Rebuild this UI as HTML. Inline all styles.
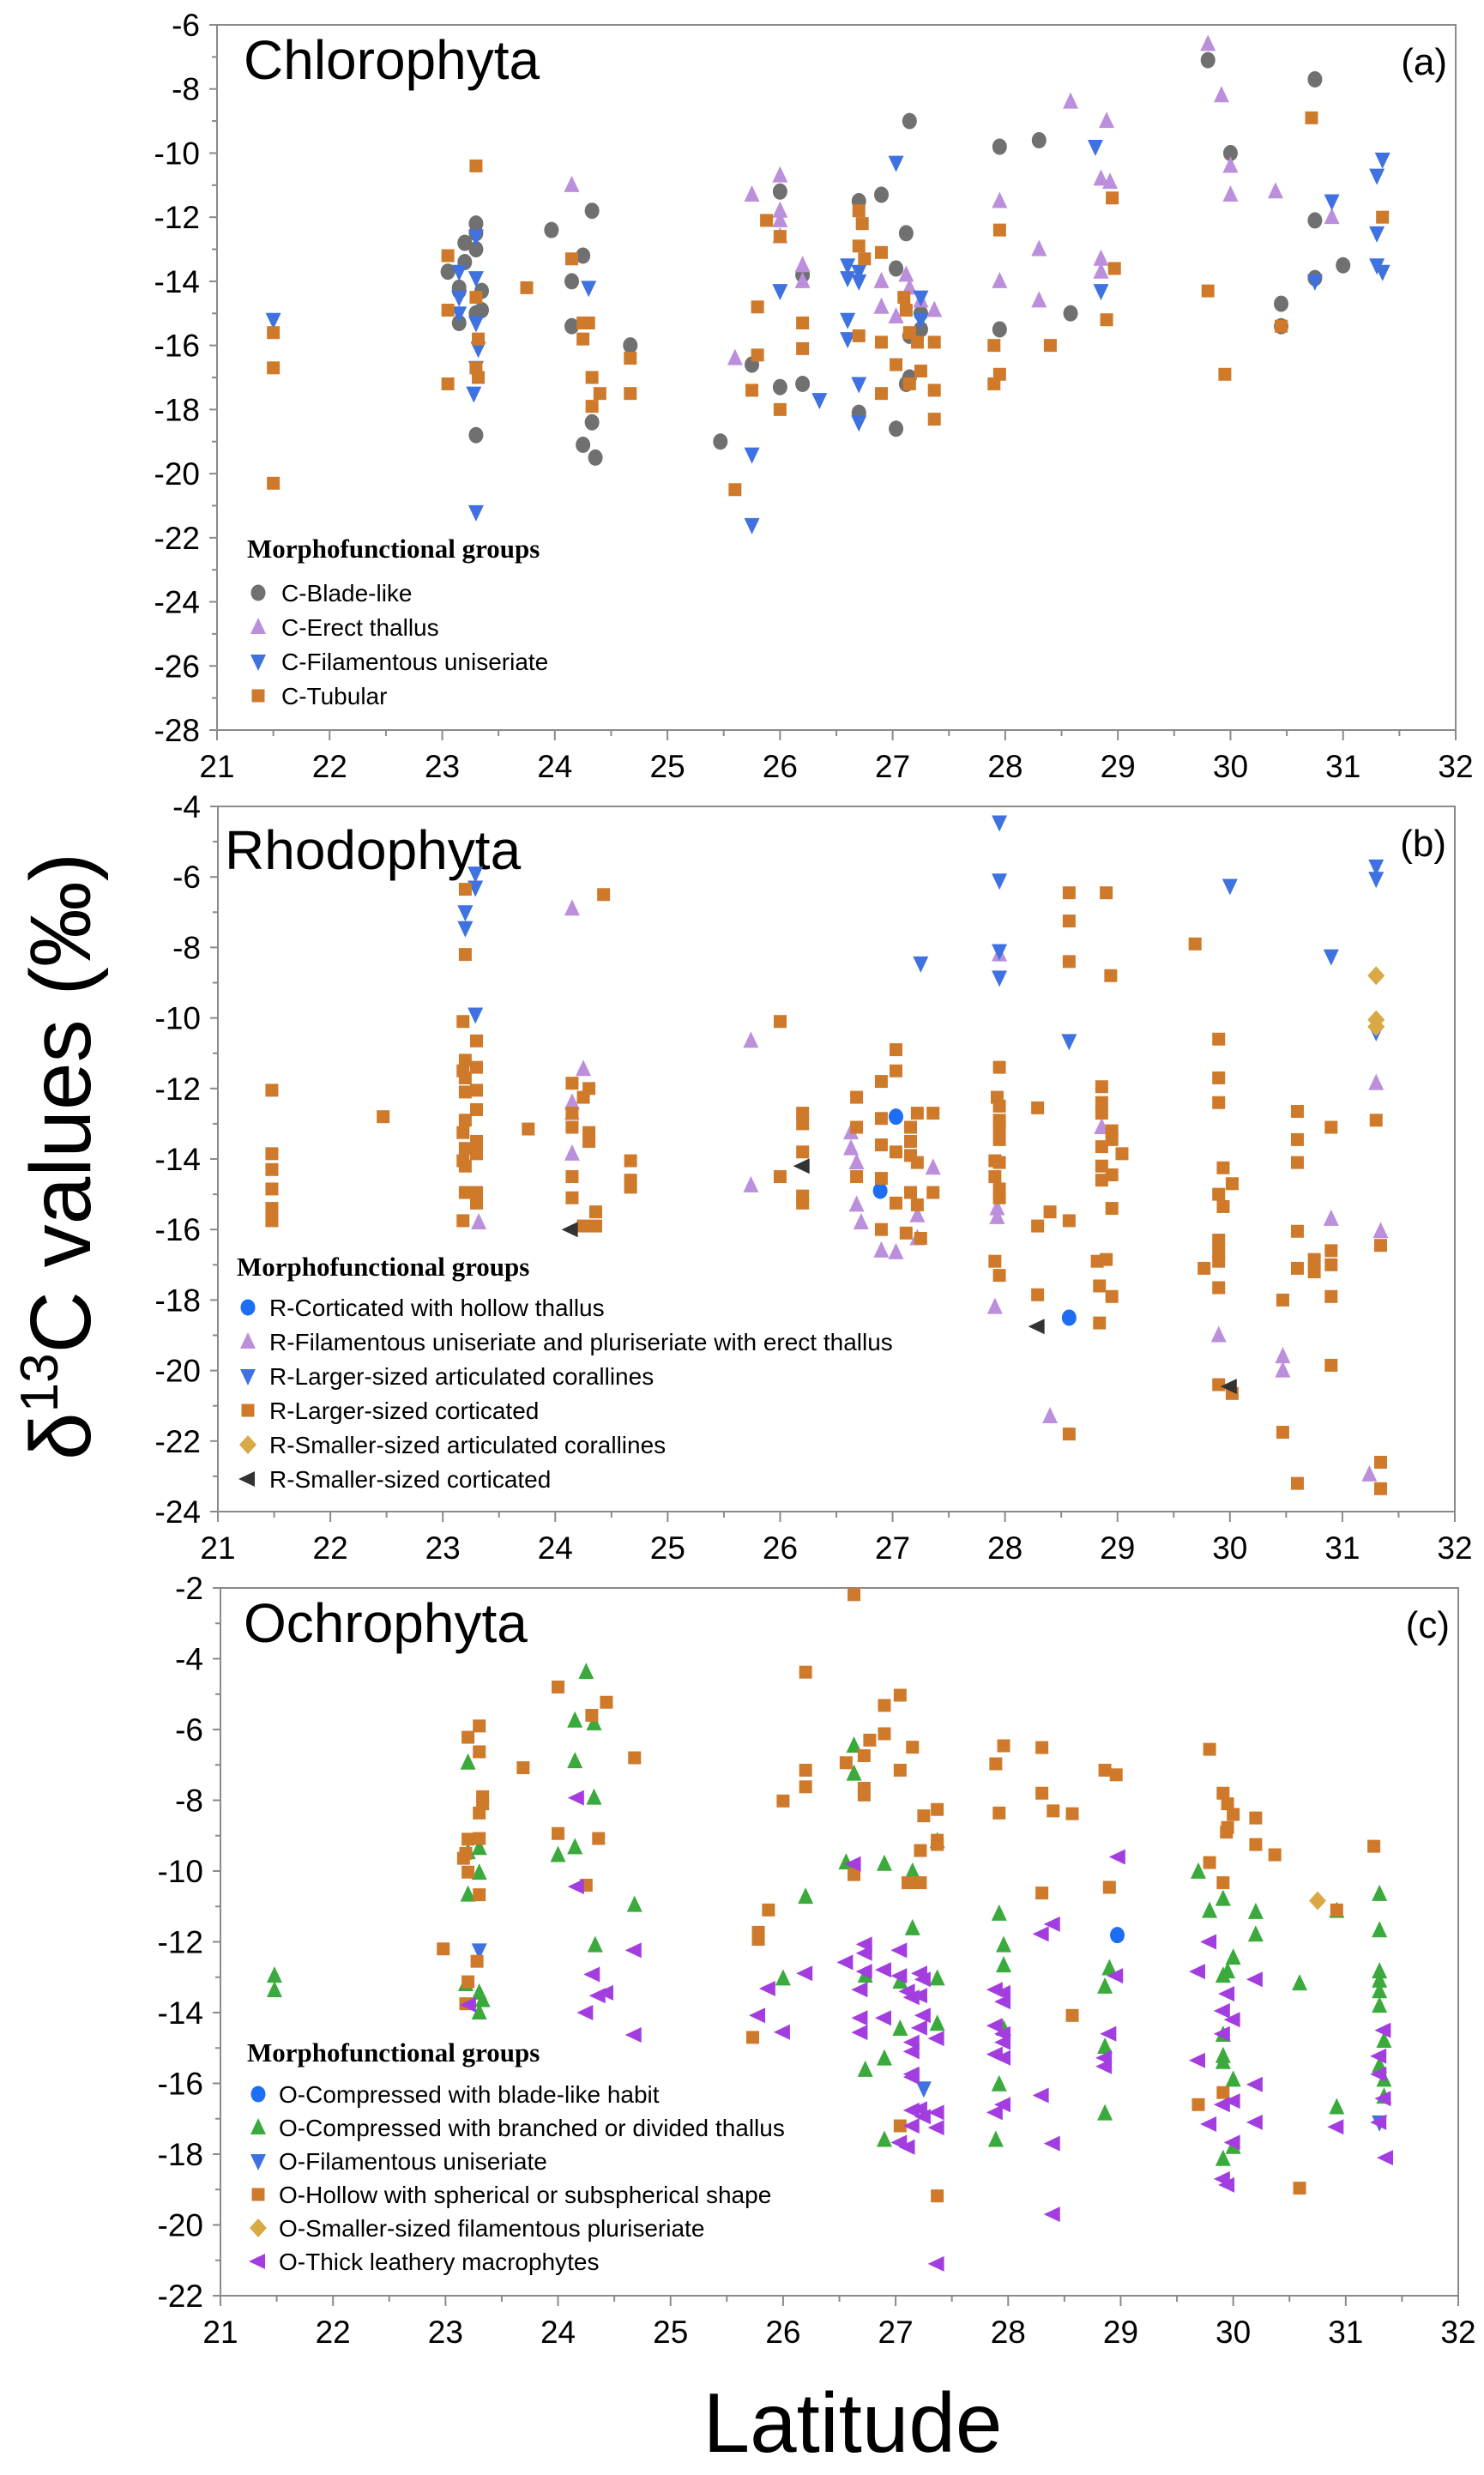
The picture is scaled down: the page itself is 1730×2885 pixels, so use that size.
<!DOCTYPE html>
<html><head><meta charset="utf-8"><style>
html,body{margin:0;padding:0;background:#fff}
svg{display:block}
text{font-family:"Liberation Sans",sans-serif}
text.serif{font-family:"Liberation Serif",serif}
</style></head><body>
<svg id="chart" width="1730" height="2885" viewBox="0 0 1730 2885" xmlns="http://www.w3.org/2000/svg"></svg>
<script>
// ---- data: [latitude, delta13C] ----
const xTicks = [21,22,23,24,25,26,27,28,29,30,31,32];
const yTicksA = [-6,-8,-10,-12,-14,-16,-18,-20,-22,-24,-26,-28];
const yTicksB = [-4,-6,-8,-10,-12,-14,-16,-18,-20,-22,-24];
const yTicksC = [-2,-4,-6,-8,-10,-12,-14,-16,-18,-20,-22];

const cBlade = [[23.05,-13.7],[23.2,-12.8],[23.2,-13.4],[23.15,-14.2],[23.15,-14.3],[23.15,-15.3],[23.3,-12.2],[23.3,-12.5],[23.3,-13.0],[23.35,-14.3],[23.3,-15.0],[23.35,-14.9],[23.3,-18.8],[23.97,-12.4],[24.15,-14.0],[24.25,-13.2],[24.33,-11.8],[24.15,-15.4],[24.25,-19.1],[24.33,-18.4],[24.36,-19.5],[24.67,-16.0],[25.47,-19.0],[25.75,-16.6],[26.0,-11.2],[26.0,-17.3],[26.2,-13.8],[26.2,-17.2],[26.7,-11.5],[26.7,-18.1],[26.9,-11.3],[27.03,-13.6],[27.03,-18.6],[27.12,-12.5],[27.15,-9.0],[27.15,-15.7],[27.12,-17.2],[27.15,-17.0],[27.25,-15.0],[27.25,-15.5],[27.95,-9.8],[27.95,-15.5],[28.3,-9.6],[28.58,-15.0],[29.8,-7.1],[30.0,-10.0],[30.45,-14.7],[30.45,-15.4],[30.75,-7.7],[30.75,-12.1],[30.75,-13.9],[31.0,-13.5]];
const cErect = [[24.15,-11.0],[25.6,-16.4],[25.75,-11.3],[26.0,-10.7],[26.0,-11.8],[26.0,-12.1],[26.0,-12.6],[26.2,-13.5],[26.2,-14.0],[26.9,-14.0],[26.9,-14.8],[27.03,-15.1],[27.12,-13.8],[27.15,-14.2],[27.25,-14.6],[27.37,-14.9],[27.95,-11.5],[27.95,-14.0],[28.3,-13.0],[28.3,-14.6],[28.58,-8.4],[28.85,-10.8],[28.85,-13.3],[28.85,-13.7],[28.9,-9.0],[28.93,-10.9],[29.8,-6.6],[29.92,-8.2],[30.0,-10.4],[30.0,-11.3],[30.4,-11.2],[30.9,-12.0]];
const cFil = [[21.5,-15.2],[23.15,-13.7],[23.15,-14.5],[23.15,-15.0],[23.3,-12.6],[23.3,-13.9],[23.3,-15.3],[23.32,-16.1],[23.3,-16.7],[23.28,-17.5],[23.3,-21.2],[24.3,-14.2],[25.75,-19.4],[25.75,-21.6],[26.0,-14.3],[26.35,-17.7],[26.6,-13.5],[26.6,-13.9],[26.6,-15.2],[26.6,-15.8],[26.7,-13.7],[26.7,-14.0],[26.7,-17.2],[26.7,-18.4],[27.03,-10.3],[27.25,-14.5],[27.25,-15.2],[28.8,-9.8],[28.85,-14.3],[30.75,-14.0],[30.9,-11.5],[31.3,-10.7],[31.3,-12.5],[31.3,-13.5],[31.35,-10.2],[31.35,-13.7]];
const cTub = [[21.5,-15.6],[21.5,-16.7],[21.5,-20.3],[23.05,-13.2],[23.05,-14.9],[23.05,-17.2],[23.3,-10.4],[23.3,-14.5],[23.32,-15.8],[23.3,-16.7],[23.32,-17.0],[23.75,-14.2],[24.15,-13.3],[24.25,-15.3],[24.3,-15.3],[24.25,-15.8],[24.33,-17.0],[24.33,-17.9],[24.4,-17.5],[24.67,-16.4],[24.67,-17.5],[25.6,-20.5],[25.75,-17.4],[25.8,-14.8],[25.8,-16.3],[25.88,-12.1],[26.0,-12.6],[26.0,-18.0],[26.2,-15.3],[26.2,-16.1],[26.7,-11.8],[26.7,-12.9],[26.73,-12.2],[26.7,-15.7],[26.75,-13.3],[26.9,-13.1],[26.9,-15.9],[26.9,-17.5],[27.03,-16.6],[27.1,-14.5],[27.12,-14.9],[27.15,-15.6],[27.15,-17.2],[27.22,-15.9],[27.25,-16.8],[27.37,-15.9],[27.37,-17.4],[27.37,-18.3],[27.9,-16.0],[27.9,-17.2],[27.95,-12.4],[27.95,-16.9],[28.4,-16.0],[28.9,-15.2],[28.95,-11.4],[28.97,-13.6],[29.8,-14.3],[29.95,-16.9],[30.45,-15.4],[30.72,-8.9],[31.35,-12.0]];

const rHollow = [[27.03,-12.8],[26.89,-14.9],[28.57,-18.5]];
const rFilErect = [[24.15,-6.9],[24.25,-11.45],[24.15,-12.4],[24.15,-12.7],[24.15,-13.85],[23.32,-15.8],[25.74,-10.65],[25.74,-14.75],[26.63,-13.25],[26.63,-13.7],[26.68,-14.1],[26.68,-15.3],[26.72,-15.8],[26.9,-16.6],[27.03,-16.65],[27.22,-15.6],[27.22,-16.25],[27.36,-14.25],[27.95,-8.2],[27.93,-15.4],[27.93,-15.65],[27.91,-18.2],[28.4,-21.3],[28.86,-13.1],[29.9,-19.0],[30.47,-19.6],[30.47,-20.0],[30.9,-15.7],[31.3,-11.85],[31.34,-16.05],[31.24,-22.95]];
const rLargeArt = [[23.29,-5.9],[23.29,-6.3],[23.2,-7.0],[23.2,-7.45],[23.29,-9.9],[27.95,-4.45],[27.95,-6.1],[27.95,-8.1],[27.95,-8.85],[27.25,-8.45],[28.57,-10.65],[30.0,-6.25],[30.9,-8.25],[31.3,-5.7],[31.3,-6.05],[31.3,-10.4]];
const rLargeCort = [[21.48,-12.05],[21.48,-13.85],[21.48,-14.3],[21.48,-14.85],[21.48,-15.4],[21.48,-15.75],[22.47,-12.8],[23.2,-6.35],[23.2,-8.2],[23.18,-10.1],[23.3,-10.65],[23.2,-11.2],[23.3,-11.4],[23.18,-11.5],[23.2,-11.7],[23.3,-12.05],[23.2,-12.1],[23.3,-12.6],[23.2,-12.9],[23.18,-13.25],[23.3,-13.5],[23.2,-13.7],[23.3,-13.85],[23.18,-14.05],[23.2,-14.2],[23.2,-14.95],[23.3,-14.95],[23.3,-15.25],[23.18,-15.75],[23.76,-13.15],[24.15,-11.85],[24.3,-12.0],[24.25,-12.25],[24.15,-12.7],[24.15,-13.1],[24.3,-13.25],[24.3,-13.5],[24.15,-14.5],[24.15,-15.1],[24.36,-15.5],[24.25,-15.9],[24.36,-15.9],[24.43,-6.5],[24.67,-14.05],[24.67,-14.6],[24.67,-14.8],[26.0,-10.1],[26.0,-14.5],[26.2,-12.7],[26.2,-13.0],[26.2,-13.8],[26.2,-15.05],[26.2,-15.25],[26.68,-12.25],[26.68,-13.1],[26.68,-14.5],[27.03,-10.9],[27.03,-11.5],[26.9,-11.8],[26.9,-12.85],[26.9,-13.6],[27.03,-13.8],[26.9,-14.55],[27.03,-15.25],[26.9,-16.0],[27.36,-12.7],[27.22,-12.7],[27.16,-13.1],[27.16,-13.5],[27.16,-13.9],[27.22,-14.1],[27.36,-14.95],[27.16,-14.95],[27.22,-15.3],[27.12,-16.1],[27.25,-16.25],[27.95,-11.4],[27.93,-12.25],[27.95,-12.5],[27.95,-12.9],[27.95,-13.1],[27.95,-13.45],[27.91,-14.05],[27.95,-14.1],[27.91,-14.5],[27.95,-14.85],[27.95,-15.1],[27.91,-16.9],[27.95,-17.3],[28.29,-12.55],[28.29,-15.9],[28.29,-17.85],[28.4,-15.5],[28.57,-6.45],[28.57,-7.25],[28.57,-8.4],[28.57,-15.75],[28.57,-21.8],[28.9,-6.45],[28.94,-8.8],[28.86,-11.95],[28.86,-12.4],[28.86,-12.7],[28.95,-13.2],[28.95,-13.45],[28.86,-13.65],[29.04,-13.85],[28.86,-14.2],[28.95,-14.45],[28.86,-14.6],[28.95,-15.4],[28.9,-16.85],[28.82,-16.9],[28.84,-17.6],[28.95,-17.9],[28.84,-18.65],[29.69,-7.9],[29.9,-10.6],[29.9,-11.7],[29.9,-12.4],[29.94,-14.25],[30.02,-14.7],[29.9,-15.0],[29.94,-15.35],[29.9,-16.3],[29.9,-16.65],[29.9,-16.9],[29.77,-17.1],[29.9,-17.65],[29.9,-20.4],[30.02,-20.65],[30.6,-12.65],[30.6,-13.45],[30.6,-14.1],[30.6,-16.05],[30.75,-16.85],[30.6,-17.1],[30.75,-17.2],[30.47,-18.0],[30.47,-21.75],[30.6,-23.2],[30.9,-13.1],[30.9,-16.6],[30.9,-17.0],[30.9,-17.9],[30.9,-19.85],[31.3,-12.9],[31.34,-16.45],[31.34,-22.6],[31.34,-23.35]];
const rSmallArt = [[31.3,-8.8],[31.3,-10.05],[31.3,-10.25]];
const rSmallCort = [[26.2,-14.2],[24.14,-16.0],[28.29,-18.75],[30.0,-20.45]];

const oBlade = [[28.97,-11.81]];
const oBranched = [[21.48,-12.96],[21.48,-13.37],[23.2,-6.94],[23.2,-9.47],[23.2,-10.67],[23.3,-9.35],[23.3,-10.05],[23.18,-13.2],[23.3,-13.44],[23.33,-13.65],[23.3,-14.0],[24.25,-4.38],[24.15,-5.75],[24.32,-5.83],[24.15,-6.9],[24.32,-7.93],[24.0,-9.55],[24.15,-9.33],[24.33,-12.1],[24.68,-10.96],[26.0,-13.04],[26.2,-10.73],[26.56,-9.76],[26.63,-6.46],[26.63,-7.25],[26.9,-9.8],[26.73,-12.96],[26.73,-15.62],[26.9,-15.3],[26.9,-17.6],[27.04,-13.13],[27.04,-14.46],[27.15,-11.62],[27.15,-10.02],[27.37,-13.04],[27.37,-9.16],[27.37,-14.32],[27.92,-11.21],[27.96,-12.1],[27.96,-12.67],[27.96,-14.46],[27.92,-16.03],[27.89,-17.6],[28.86,-13.27],[28.9,-12.75],[28.86,-14.97],[28.86,-16.85],[29.69,-10.02],[29.79,-11.13],[29.91,-10.79],[29.91,-12.96],[29.95,-12.84],[30.0,-12.45],[29.91,-14.63],[29.91,-15.23],[29.91,-15.4],[30.0,-15.9],[29.91,-18.14],[30.0,-17.8],[30.2,-11.16],[30.2,-11.8],[30.59,-13.18],[30.92,-16.68],[30.92,-11.13],[31.3,-10.65],[31.3,-11.68],[31.3,-12.84],[31.3,-13.1],[31.3,-13.4],[31.3,-13.81],[31.34,-14.8],[31.3,-15.5],[31.34,-15.9],[31.34,-16.38]];
const oFil = [[23.3,-12.24],[27.25,-16.14],[31.3,-17.1]];
const oHollow = [[23.2,-6.22],[23.3,-5.9],[23.3,-6.63],[23.69,-7.08],[23.33,-7.9],[23.33,-8.1],[23.3,-8.36],[23.2,-9.1],[23.3,-9.08],[23.18,-9.5],[23.16,-9.64],[23.2,-10.03],[23.3,-10.67],[22.98,-12.2],[23.28,-12.55],[23.2,-13.13],[23.18,-13.75],[24.0,-4.8],[24.3,-5.6],[24.43,-5.23],[24.68,-6.8],[24.0,-8.94],[24.36,-9.08],[24.25,-10.4],[25.73,-14.7],[25.78,-11.73],[25.78,-11.93],[25.87,-11.1],[26.0,-8.02],[26.2,-4.38],[26.2,-7.15],[26.2,-7.62],[26.63,-2.19],[26.56,-6.94],[26.63,-10.1],[26.72,-6.74],[26.72,-7.66],[26.72,-7.85],[26.77,-6.3],[26.9,-6.12],[26.9,-5.32],[27.04,-5.03],[27.04,-7.15],[27.15,-6.5],[27.11,-10.33],[27.22,-10.33],[27.22,-9.42],[27.25,-8.44],[27.37,-8.26],[27.37,-9.13],[27.37,-9.25],[27.04,-17.2],[27.37,-19.18],[27.89,-6.97],[27.96,-6.46],[27.92,-8.36],[28.3,-6.51],[28.3,-7.8],[28.4,-8.3],[28.57,-8.38],[28.3,-10.62],[28.57,-14.08],[28.86,-7.15],[28.96,-7.28],[28.9,-10.46],[29.79,-6.56],[29.91,-7.8],[29.95,-8.1],[30.0,-8.4],[29.95,-8.77],[29.94,-8.9],[29.79,-9.76],[29.91,-10.33],[30.2,-8.5],[30.2,-9.25],[30.37,-9.54],[29.69,-16.6],[29.91,-16.26],[30.59,-18.96],[30.92,-11.1],[31.25,-9.3]];
const oSmallFil = [[30.75,-10.84]];
const oLeathery = [[23.21,-13.78],[24.17,-7.93],[24.17,-10.44],[24.31,-12.92],[24.25,-14.0],[24.36,-13.52],[24.43,-13.44],[24.68,-12.24],[24.68,-14.63],[25.78,-14.08],[25.87,-13.32],[26.0,-14.55],[26.2,-12.89],[26.56,-12.58],[26.63,-9.8],[26.69,-13.35],[26.73,-12.07],[26.73,-12.32],[26.73,-12.84],[26.69,-14.15],[26.69,-14.56],[26.9,-12.79],[26.9,-14.15],[27.04,-12.24],[27.04,-12.96],[27.11,-13.4],[27.15,-13.57],[27.15,-14.84],[27.15,-15.1],[27.15,-15.74],[27.15,-15.82],[27.22,-12.89],[27.22,-13.52],[27.22,-14.43],[27.25,-14.08],[27.25,-13.06],[27.15,-16.76],[27.22,-16.72],[27.25,-16.94],[27.37,-16.82],[27.37,-17.25],[27.15,-17.2],[27.04,-17.67],[27.11,-17.8],[27.37,-14.73],[27.37,-21.1],[27.89,-13.35],[27.96,-13.44],[27.96,-13.69],[27.89,-14.37],[27.96,-14.6],[27.89,-15.18],[27.96,-15.28],[27.96,-14.84],[27.89,-16.82],[27.96,-16.6],[28.3,-11.78],[28.4,-11.5],[28.3,-16.34],[28.4,-17.7],[28.4,-19.7],[28.98,-9.6],[28.96,-12.96],[28.9,-14.6],[28.86,-15.28],[28.86,-15.52],[29.69,-12.84],[29.79,-12.0],[29.69,-15.35],[29.91,-13.95],[29.95,-13.47],[30.0,-14.2],[29.91,-14.6],[30.0,-16.5],[29.91,-16.6],[29.79,-17.15],[30.0,-17.67],[29.91,-18.7],[29.95,-18.87],[30.2,-13.06],[30.2,-16.03],[30.2,-17.1],[30.92,-17.23],[31.3,-15.23],[31.34,-14.5],[31.3,-15.74],[31.34,-16.43],[31.3,-17.1],[31.36,-18.1]];

const legendA = ["C-Blade-like","C-Erect thallus","C-Filamentous uniseriate","C-Tubular"];
const legendB = ["R-Corticated with hollow thallus","R-Filamentous uniseriate and pluriseriate with erect thallus","R-Larger-sized articulated corallines","R-Larger-sized corticated","R-Smaller-sized articulated corallines","R-Smaller-sized corticated"];
const legendC = ["O-Compressed with blade-like habit","O-Compressed with branched or divided thallus","O-Filamentous uniseriate","O-Hollow with spherical or subspherical shape","O-Smaller-sized filamentous pluriseriate","O-Thick leathery macrophytes"];

const NS = "http://www.w3.org/2000/svg";
const svg = document.getElementById('chart');
const COL = {gray:'#707070',lilac:'#bb8fdb',blue:'#3f72e0',orange:'#cf7a2b',green:'#3aaa3c',violet:'#a33de0',gold:'#d9a945',dark:'#333333',bblue:'#1d6ef5'};

function el(tag, attrs, parent){
  const e = document.createElementNS(NS, tag);
  for (const k in attrs) e.setAttribute(k, attrs[k]);
  (parent||svg).appendChild(e);
  return e;
}
function marker(g, shape, cx, cy, color){
  let e;
  if (shape==='circle') e = el('ellipse',{cx:cx,cy:cy,rx:8.5,ry:9.5,fill:color},g);
  else if (shape==='square') e = el('rect',{x:cx-7.5,y:cy-7.5,width:15,height:15,fill:color},g);
  else if (shape==='up') e = el('polygon',{points:`${cx},${cy-11} ${cx+9},${cy+8} ${cx-9},${cy+8}`,fill:color},g);
  else if (shape==='down') e = el('polygon',{points:`${cx-9},${cy-8} ${cx+9},${cy-8} ${cx},${cy+11}`,fill:color},g);
  else if (shape==='diamond') e = el('polygon',{points:`${cx},${cy-11} ${cx+10},${cy} ${cx},${cy+11} ${cx-10},${cy}`,fill:color},g);
  else if (shape==='left') e = el('polygon',{points:`${cx-11},${cy} ${cx+8},${cy-9} ${cx+8},${cy+9}`,fill:color},g);
  return e;
}

function panel(cfg){
  const g = el('g',{});
  
  
  const L=cfg.left,R=cfg.right,T=cfg.top,B=cfg.bottom;
  const xs = v => L + (v-21)/(32-21)*(R-L);
  const ys = v => T + (cfg.ymax-v)/(cfg.ymax-cfg.ymin)*(B-T);
  const frame = el('rect',{x:L,y:T,width:R-L,height:B-T,fill:'none',stroke:'#8a8a8a','stroke-width':2},g);
  
  
  cfg.yTicks.forEach(v=>{
    el('line',{x1:L-9,x2:L,y1:ys(v),y2:ys(v),stroke:'#8a8a8a','stroke-width':2},g);
    if (v-1 > cfg.ymin-0.1) el('line',{x1:L-6,x2:L,y1:ys(v-1),y2:ys(v-1),stroke:'#8a8a8a','stroke-width':2},g);
    const t = el('text',{x:L-20,y:ys(v)+13,'text-anchor':'end','font-size':37,fill:'#000'},g);
    t.textContent = v;
    
    
  });
  xTicks.forEach(v=>{
    el('line',{x1:xs(v),x2:xs(v),y1:B,y2:B+12,stroke:'#8a8a8a','stroke-width':2},g);
    if (v<32) el('line',{x1:xs(v+0.5),x2:xs(v+0.5),y1:B,y2:B+7,stroke:'#8a8a8a','stroke-width':2},g);
    const t = el('text',{x:xs(v),y:B+55,'text-anchor':'middle','font-size':37,fill:'#000'},g);
    t.textContent = v;
    
    
  });
  const title = el('text',{x:cfg.titleX,y:cfg.titleY,'font-size':64,fill:'#000'},g);
  title.textContent = cfg.title;
  
  
  const tag = el('text',{x:R-10,y:T+58,'text-anchor':'end','font-size':44,fill:'#000'},g);
  tag.textContent = cfg.tag;
  
  
  cfg.series.forEach(s=>{
    const sg = el('g',{},g);
    
    
    s.data.forEach(p=>{
      const m = marker(sg, s.shape, xs(p[0]), ys(p[1]), s.color);
      
      
    });
  });
  const lg = el('g',{},g);
  
  
  const lt = el('text',{x:cfg.legX,y:cfg.legY,'font-size':31,'font-weight':'bold','class':'serif',fill:'#000'},lg);
  lt.textContent = 'Morphofunctional groups';
  
  
  cfg.legend.forEach((lab,i)=>{
    const y = cfg.legY + cfg.legFirst + i*cfg.legStep;
    const s = cfg.series[i];
    const m = marker(lg, s.shape, cfg.legX+13, y-10, s.color);
    
    
    const t = el('text',{x:cfg.legX+cfg.legTextDx,y:y,'font-size':28,fill:'#000'},lg);
    t.textContent = lab;
    
    
  });
}

panel({name:'panel-a-chlorophyta',left:253,right:1697,top:29,bottom:851,ymax:-6,ymin:-28,yTicks:yTicksA,
  title:'Chlorophyta',titleX:284,titleY:92,tag:'(a)',legX:288,legY:650,legFirst:51,legStep:40,legTextDx:40,legend:legendA,
  series:[{name:'c-blade-like',shape:'circle',color:COL.gray,data:cBlade},
          {name:'c-erect-thallus',shape:'up',color:COL.lilac,data:cErect},
          {name:'c-filamentous-uniseriate',shape:'down',color:COL.blue,data:cFil},
          {name:'c-tubular',shape:'square',color:COL.orange,data:cTub}]});
panel({name:'panel-b-rhodophyta',left:254,right:1696,top:940,bottom:1762,ymax:-4,ymin:-24,yTicks:yTicksB,
  title:'Rhodophyta',titleX:262,titleY:1013,tag:'(b)',legX:276,legY:1487,legFirst:47,legStep:40,legTextDx:38,legend:legendB,
  series:[{name:'r-corticated-hollow',shape:'circle',color:COL.bblue,data:rHollow},
          {name:'r-filamentous-erect',shape:'up',color:COL.lilac,data:rFilErect},
          {name:'r-larger-articulated-corallines',shape:'down',color:COL.blue,data:rLargeArt},
          {name:'r-larger-corticated',shape:'square',color:COL.orange,data:rLargeCort},
          {name:'r-smaller-articulated-corallines',shape:'diamond',color:COL.gold,data:rSmallArt},
          {name:'r-smaller-corticated',shape:'left',color:COL.dark,data:rSmallCort}]});
panel({name:'panel-c-ochrophyta',left:257,right:1700,top:1851,bottom:2676,ymax:-2,ymin:-22,yTicks:yTicksC,
  title:'Ochrophyta',titleX:284,titleY:1914,tag:'(c)',legX:288,legY:2403,legFirst:48,legStep:39,legTextDx:37,legend:legendC,
  series:[{name:'o-compressed-blade',shape:'circle',color:COL.bblue,data:oBlade},
          {name:'o-compressed-branched',shape:'up',color:COL.green,data:oBranched},
          {name:'o-filamentous-uniseriate',shape:'down',color:COL.blue,data:oFil},
          {name:'o-hollow-spherical',shape:'square',color:COL.orange,data:oHollow},
          {name:'o-smaller-filamentous-pluriseriate',shape:'diamond',color:COL.gold,data:oSmallFil},
          {name:'o-thick-leathery',shape:'left',color:COL.violet,data:oLeathery}]});

const yt = el('text',{x:0,y:0,'font-size':100,fill:'#000','text-anchor':'middle',transform:'translate(105,1348) rotate(-90)'});


yt.innerHTML = 'δ<tspan font-size="62" dy="-38">13</tspan><tspan dy="38">C values (‰)</tspan>';
const xt = el('text',{x:994,y:2858,'font-size':98,fill:'#000','text-anchor':'middle'});


xt.textContent = 'Latitude';
</script>
</body></html>
